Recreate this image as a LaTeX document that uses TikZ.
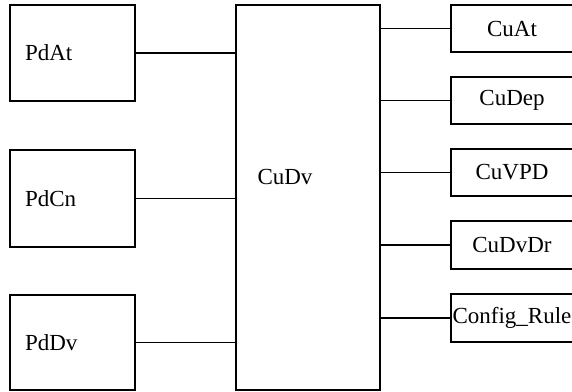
\documentclass[tikz,border=0pt]{standalone}
\usepackage{fontspec}
\setmainfont{Liberation Serif}
\begin{document}
\begin{tikzpicture}[x=1pt,y=-1pt,
  every node/.style={font=\fontsize{23}{26}\selectfont},
  leftbox/.style={draw,line width=1.5pt,rectangle,text width=95pt,inner xsep=15pt,inner ysep=0pt,align=left,anchor=center},
  rightbox/.style={draw,line width=1.5pt,rectangle,minimum width=122pt,inner sep=0pt,anchor=center},
  bigbox/.style={draw,line width=1.5pt,rectangle,minimum width=144pt,minimum height=385pt,inner sep=0pt,anchor=center},
  link/.style={line width=1.5pt}]
\useasboundingbox (0,0) rectangle (572,391);
\clip (0,0) rectangle (572,391);
% left boxes
\node[leftbox,minimum height=96pt] (pdat) at (72.5,53) {PdAt};
\node[leftbox,minimum height=97pt] (pdcn) at (72.5,198.5) {PdCn};
\node[leftbox,minimum height=95pt] (pddv) at (72.5,342.5) {PdDv};
% central box
\node[bigbox] (cudv) at (308,197.5) {};
\node[inner sep=0pt] (cudvlabel) at (285,177) {CuDv};
% right boxes
\node[rightbox,minimum height=47pt] (cuat) at (512,28.5) {CuAt};
\node[rightbox,minimum height=47pt] (cudep) at (512,100.5) {CuDep};
\node[rightbox,minimum height=47pt] (cuvpd) at (512,172.5) {CuVPD};
\node[rightbox,minimum height=48pt] (cudvdr) at (512,245) {CuDvDr};
\node[rightbox,minimum height=48pt] (config) at (512,318) {Config\_Rule};
% connectors left
\draw[link] (pdat.east) -- (pdat.east -| cudv.west);
\draw[link] (pdcn.east) -- (pdcn.east -| cudv.west);
\draw[link] (pddv.east) -- (pddv.east -| cudv.west);
% connectors right
\draw[link] (cudv.east |- cuat.west) -- (cuat.west);
\draw[link] (cudv.east |- cudep.west) -- (cudep.west);
\draw[link] (cudv.east |- cuvpd.west) -- (cuvpd.west);
\draw[link] (cudv.east |- cudvdr.west) -- (cudvdr.west);
\draw[link] (cudv.east |- config.west) -- (config.west);
\end{tikzpicture}
\end{document}
